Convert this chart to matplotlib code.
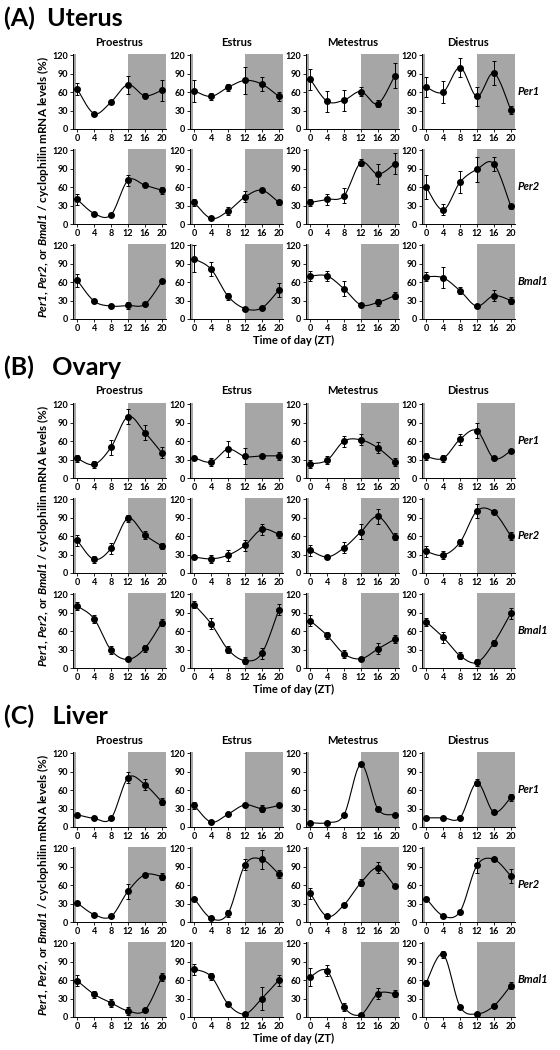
import numpy as np
import matplotlib
matplotlib.use("Agg")
import matplotlib.pyplot as plt

plt.rcParams['font.family'] = ['Lato', 'DejaVu Sans']
plt.rcParams['font.sans-serif'] = ['Lato', 'DejaVu Sans']
plt.rcParams['mathtext.fontset'] = 'custom'
plt.rcParams['mathtext.bfit'] = 'Lato:italic:bold'

# ---------------- data ----------------
zt = [0, 4, 8, 12, 16, 20]
stages = ["Proestrus", "Estrus", "Metestrus", "Diestrus"]
genes = ["Per1", "Per2", "Bmal1"]
tissue_titles = ["(A)  Uterus", "(B)   Ovary", "(C)   Liver"]
yticks = [0, 30, 60, 90, 120]

# Uterus: one list per stage (Proestrus, Estrus, Metestrus, Diestrus)
uterus_per1 = [[65, 25, 44, 72, 54, 63], [62, 53, 68, 79, 73, 53],
               [81, 45, 47, 61, 41, 87], [68, 60, 100, 53, 91, 31]]
uterus_per1_err = [[10, 3, 2, 15, 4, 17], [18, 6, 6, 22, 11, 7],
                   [17, 17, 17, 8, 6, 20], [16, 18, 16, 16, 20, 6]]
uterus_per2 = [[40, 17, 15, 71, 63, 55], [35, 9, 21, 44, 55, 35],
               [35, 40, 46, 100, 81, 98], [60, 23, 68, 89, 98, 29]]
uterus_per2_err = [[9, 3, 2, 9, 3, 6], [6, 2, 6, 9, 3, 4],
                   [6, 9, 12, 6, 16, 17], [20, 9, 18, 20, 11, 4]]
uterus_bmal1 = [[63, 29, 21, 22, 24, 61], [98, 81, 37, 17, 18, 47],
                [70, 70, 49, 23, 27, 38], [69, 67, 46, 21, 38, 30]]
uterus_bmal1_err = [[11, 3, 2, 5, 3, 3], [22, 11, 6, 2, 2, 11],
                    [8, 8, 12, 3, 6, 6], [8, 17, 6, 2, 9, 6]]

# Ovary
ovary_per1 = [[32, 22, 50, 100, 74, 41], [33, 26, 47, 35, 36, 36],
              [23, 29, 60, 62, 49, 26], [35, 32, 63, 77, 32, 44]]
ovary_per1_err = [[6, 5, 12, 12, 12, 9], [3, 6, 13, 13, 2, 6],
                  [6, 6, 9, 9, 9, 6], [6, 6, 9, 12, 2, 3]]
ovary_per2 = [[53, 22, 40, 89, 62, 44], [26, 23, 29, 45, 71, 63],
              [37, 26, 41, 67, 92, 59], [35, 29, 50, 101, 99, 60]]
ovary_per2_err = [[9, 6, 9, 6, 6, 5], [3, 6, 9, 9, 9, 6],
                  [9, 2, 9, 12, 12, 6], [9, 6, 6, 12, 3, 6]]
ovary_bmal1 = [[101, 80, 29, 14, 32, 74], [103, 72, 30, 12, 24, 95],
               [77, 53, 23, 15, 31, 47], [75, 50, 20, 9, 41, 89]]
ovary_bmal1_err = [[6, 6, 6, 3, 6, 6], [6, 9, 6, 6, 9, 9],
                   [9, 6, 6, 3, 9, 6], [6, 9, 6, 6, 5, 9]]

# Liver
liver_per1 = [[20, 14, 14, 80, 69, 41], [35, 8, 21, 36, 30, 35],
              [7, 7, 20, 102, 29, 20], [15, 15, 15, 72, 24, 48]]
liver_per1_err = [[2, 2, 2, 9, 9, 6], [6, 2, 2, 2, 6, 2],
                  [2, 2, 2, 2, 2, 2], [2, 2, 2, 6, 3, 6]]
liver_per2 = [[31, 12, 9, 50, 77, 74], [38, 6, 14, 93, 102, 78],
              [47, 9, 28, 64, 88, 58], [38, 10, 17, 92, 102, 75]]
liver_per2_err = [[3, 2, 2, 12, 2, 6], [3, 2, 6, 9, 15, 6],
                  [9, 2, 2, 6, 9, 2], [3, 2, 3, 12, 3, 12]]
liver_bmal1 = [[59, 37, 23, 10, 11, 65], [78, 66, 21, 5, 30, 60],
               [65, 75, 16, 4, 38, 38], [56, 102, 17, 5, 18, 51]]
liver_bmal1_err = [[9, 6, 6, 6, 2, 6], [9, 6, 3, 2, 18, 9],
                   [15, 9, 6, 2, 9, 6], [5, 6, 2, 2, 2, 6]]

tissues = [
    [(uterus_per1, uterus_per1_err), (uterus_per2, uterus_per2_err), (uterus_bmal1, uterus_bmal1_err)],
    [(ovary_per1, ovary_per1_err), (ovary_per2, ovary_per2_err), (ovary_bmal1, ovary_bmal1_err)],
    [(liver_per1, liver_per1_err), (liver_per2, liver_per2_err), (liver_bmal1, liver_bmal1_err)],
]

# ---------------- helpers ----------------
def smooth_curve(x, y, n=30):
    """Excel-like smoothed line (Catmull-Rom Bezier) through the points."""
    p = np.column_stack([x, y]).astype(float)
    ext = np.vstack([p[0], p, p[-1]])
    out = []
    t = np.linspace(0, 1, n)[:, None]
    for i in range(len(p) - 1):
        p0, p1, p2, p3 = ext[i], ext[i + 1], ext[i + 2], ext[i + 3]
        b1 = p1 + (p2 - p0) / 6.0
        b2 = p2 - (p3 - p1) / 6.0
        seg = ((1 - t) ** 3) * p1 + 3 * ((1 - t) ** 2) * t * b1 + 3 * (1 - t) * t ** 2 * b2 + t ** 3 * p2
        out.append(seg if i == 0 else seg[1:])
    out = np.vstack(out)
    return out[:, 0], out[:, 1]

W, H = 560, 1050
fig = plt.figure(figsize=(W / 100, H / 100), dpi=100)

col_left = [73, 190, 306, 422]
panel_w = 93
row_top = [54, 149, 244]
panel_h = 75
sec_off = [0, 349, 698]
shade = "#a6a6a6"

def rect(l, t, w, h):
    return [l / W, 1 - (t + h) / H, w / W, h / H]

for s, tissue in enumerate(tissues):
    off = sec_off[s]
    fig.text(4 / W, 1 - (off + 18) / H, tissue_titles[s], fontsize=18,
             fontweight="bold", va="center", ha="left")
    for r, (means, errs) in enumerate(tissue):
        for c in range(4):
            ax = fig.add_axes(rect(col_left[c], off + row_top[r], panel_w, panel_h))
            ax.axvspan(12, 21, color=shade, lw=0, zorder=0)
            ax.axvspan(-1, -0.3, color=shade, lw=0, zorder=0)
            cx, cy = smooth_curve(zt, means[c])
            ax.plot(cx, cy, color="k", lw=0.8, zorder=2)
            ax.errorbar(zt, means[c], yerr=errs[c], fmt="o", color="k", ms=4,
                        capsize=1.7, elinewidth=0.7, capthick=0.7, zorder=3)
            ax.set_xlim(-1, 21)
            ax.set_ylim(0, 122)
            ax.set_xticks(zt)
            ax.set_yticks(yticks)
            ax.tick_params(labelsize=6.5, length=2, width=0.6, pad=1.5)
            for lbl in ax.get_xticklabels() + ax.get_yticklabels():
                lbl.set_fontweight("bold")
            for sp in ["top", "right"]:
                ax.spines[sp].set_visible(False)
            for sp in ["left", "bottom"]:
                ax.spines[sp].set_linewidth(0.7)
            ax.set_facecolor("white")
            if r == 0:
                fig.text((col_left[c] + panel_w / 2) / W, 1 - (off + 42) / H, stages[c],
                         fontsize=8, fontweight="bold", ha="center", va="center")
        fig.text(518 / W, 1 - (off + row_top[r] + panel_h / 2) / H, genes[r],
                 fontsize=8, fontweight="bold", style="italic", ha="left", va="center")
    fig.text(43 / W, 1 - (off + (row_top[0] + row_top[2] + panel_h) / 2) / H,
             r"$\mathbfit{Per1}$, $\mathbfit{Per2}$, or $\mathbfit{Bmal1}$ / cyclophilin mRNA levels (%)",
             rotation=90, fontsize=8.5, fontweight="bold", ha="center", va="center")
    fig.text(294 / W, 1 - (off + 340) / H, "Time of day (ZT)", fontsize=8,
             fontweight="bold", ha="center", va="center")

fig.savefig("out.png", dpi=100, facecolor="white")
